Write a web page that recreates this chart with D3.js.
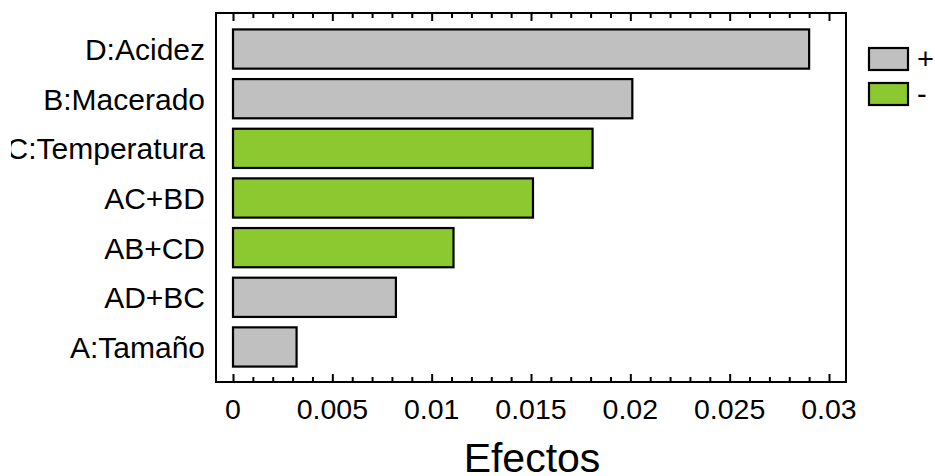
<!DOCTYPE html>
<html>
<head>
<meta charset="utf-8">
<script src="https://cdn.jsdelivr.net/npm/d3@7"></script>
<style>
  html, body { margin: 0; padding: 0; background: #fff; }
  svg { display: block; font-family: "Liberation Sans", Arial, sans-serif; }
</style>
</head>
<body>
<svg id="chart" width="935" height="476"></svg>
<script>
// Pareto de efectos (valores absolutos)
const effects = ["D:Acidez", "B:Macerado", "C:Temperatura", "AC+BD", "AB+CD", "AD+BC", "A:Tamaño"];
const values = [0.029, 0.0201, 0.0181, 0.0151, 0.0111, 0.0082, 0.0032];
const signs = ["+", "+", "-", "-", "-", "+", "+"];
const xTicks = [0, 0.005, 0.01, 0.015, 0.02, 0.025, 0.03];
const legendItems = ["+", "-"];

const colors = { "+": "#c0c0c0", "-": "#8cc830" };

const svg = d3.select("#chart");

// plot frame
const frame = { left: 216, right: 846, top: 13, bottom: 382 };

const x = d3.scaleLinear().domain([0, 0.03]).range([233, 829]);
const y = d3.scaleBand()
  .domain(effects)
  .range([19, 377])
  .padding(0.21);

// bars
svg.append("g")
  .selectAll("rect")
  .data(effects)
  .enter()
  .append("rect")
  .attr("x", x(0))
  .attr("y", d => y(d))
  .attr("width", (d, i) => x(values[i]) - x(0))
  .attr("height", y.bandwidth())
  .attr("fill", (d, i) => colors[signs[i]])
  .attr("stroke", "#000")
  .attr("stroke-width", 2.2);

// frame
svg.append("rect")
  .attr("x", frame.left)
  .attr("y", frame.top)
  .attr("width", frame.right - frame.left)
  .attr("height", frame.bottom - frame.top)
  .attr("fill", "none")
  .attr("stroke", "#000")
  .attr("stroke-width", 2);

// ticks, minor every 0.001
const minor = d3.range(0, 31).map(i => i / 1000).filter(v => Math.round(v * 1000) % 5 !== 0);

function tickAxis(axisFn, yPos, size, vals) {
  const g = svg.append("g")
    .attr("transform", `translate(0,${yPos})`)
    .call(axisFn(x).tickValues(vals).tickSize(size).tickFormat(""));
  g.select(".domain").remove();
  g.selectAll("line").attr("stroke", "#000").attr("stroke-width", 2);
  return g;
}
tickAxis(d3.axisTop, frame.top, -8, xTicks);
tickAxis(d3.axisTop, frame.top, -5, minor);
tickAxis(d3.axisBottom, frame.bottom, -8, xTicks);
tickAxis(d3.axisBottom, frame.bottom, -5, minor);

// tick labels
svg.append("g")
  .selectAll("text")
  .data(xTicks)
  .enter()
  .append("text")
  .attr("x", d => x(d))
  .attr("y", 419)
  .attr("text-anchor", "middle")
  .attr("font-size", "28.5px")
  .attr("fill", "#000")
  .text(d => d3.format("~g")(d));

// category labels (left edge is clipped in the original)
svg.append("clipPath").attr("id", "lblclip")
  .append("rect").attr("x", 11).attr("y", 0).attr("width", 200).attr("height", 400);

svg.append("g")
  .attr("clip-path", "url(#lblclip)")
  .selectAll("text")
  .data(effects)
  .enter()
  .append("text")
  .attr("x", 205)
  .attr("y", d => y(d) + y.bandwidth() / 2)
  .attr("dy", "0.37em")
  .attr("text-anchor", "end")
  .attr("font-size", "30px")
  .attr("fill", "#000")
  .text(d => d);

// axis title
svg.append("text")
  .attr("x", 532)
  .attr("y", 472)
  .attr("text-anchor", "middle")
  .attr("font-size", "41px")
  .attr("fill", "#000")
  .text("Efectos");

// legend
const legend = svg.append("g")
  .selectAll("g")
  .data(legendItems)
  .enter()
  .append("g")
  .attr("transform", (d, i) => `translate(869,${48 + i * 35})`);

legend.append("rect")
  .attr("width", 39)
  .attr("height", 22)
  .attr("fill", d => colors[d])
  .attr("stroke", "#000")
  .attr("stroke-width", 2.2);

legend.append("text")
  .attr("x", 48)
  .attr("y", 11)
  .attr("dy", "0.36em")
  .attr("font-size", "29px")
  .attr("fill", "#000")
  .text(d => d);
</script>
</body>
</html>
